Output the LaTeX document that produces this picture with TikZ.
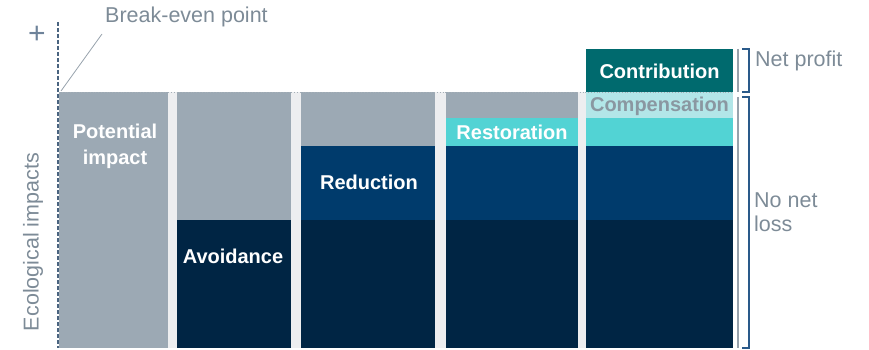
\documentclass[tikz,border=0pt]{standalone}
\usepackage{fontspec}
\setmainfont{Liberation Sans}
\definecolor{impactgray}{HTML}{9CA9B4}
\definecolor{gapgray}{HTML}{EDEEF0}
\definecolor{deepnavy}{HTML}{002544}
\definecolor{navy}{HTML}{003B6C}
\definecolor{cyanband}{HTML}{52D3D4}
\definecolor{palecyan}{HTML}{B2E6E8}
\definecolor{teal}{HTML}{006A6E}
\definecolor{labelgray}{HTML}{7D8B97}
\definecolor{axisblue}{HTML}{4A6480}
\definecolor{bracketblue}{HTML}{2A5A8A}

\begin{document}
\begin{tikzpicture}[x=1pt, y=-1pt]
  % Define styles for labels
  \tikzstyle{barlabel} = [text=white, font=\fontsize{20}{26}\selectfont\bfseries, align=center, inner sep=0pt]
  \tikzstyle{sidelabel} = [text=labelgray, font=\fontsize{21.5}{24}\selectfont, align=left, inner sep=0pt]
  \tikzstyle{brace} = [bracketblue, line width=1.4pt]

  \useasboundingbox (0,0) rectangle (869,350);

  % Gaps between the columns
  \foreach \xa/\xb in {168/177, 291/301, 435/446, 578/586} {
    \fill[gapgray] (\xa,92) rectangle (\xb,348);
  }

  % Potential impact still open
  \foreach \xa/\xb in {59/168, 177/291, 301/435, 446/578} {
    \fill[impactgray] (\xa,92) rectangle (\xb,348);
  }

  % Stacked measures
  \foreach \xa/\xb in {177/291, 301/435, 446/578, 586/733} {
    \fill[deepnavy] (\xa,220) rectangle (\xb,348);
  }
  \foreach \xa/\xb in {301/435, 446/578, 586/733} {
    \fill[navy] (\xa,146) rectangle (\xb,220);
  }
  \foreach \xa/\xb in {446/578, 586/733} {
    \fill[cyanband] (\xa,118) rectangle (\xb,146);
  }
  \fill[palecyan] (586,92) rectangle (733,118);
  \fill[teal] (586,49) rectangle (733,92);

  % Axis and break-even level
  \draw[axisblue, line width=1.4pt, dash pattern=on 4pt off 2pt] (58,22) -- (58,348);
  \draw[labelgray!70, dotted, line width=0.8pt] (59,92) -- (733,92);
  \coordinate (breakeven) at (61,91);
  \node (plus) [text=axisblue!80, font=\fontsize{30}{30}\selectfont, inner sep=0pt] at (37,35) {+};
  \node (bep) [sidelabel, anchor=west] at (105,17) {Break-even point};
  \draw[labelgray!80, line width=0.8pt] (breakeven) -- (102,34);
  \node (axis) [sidelabel, rotate=90] at (33,242) {Ecological impacts};

  % Column labels
  \node (potential) [barlabel] at (115,146) {Potential\\impact};
  \node (avoid) [barlabel] at (233,256) {Avoidance};
  \node (reduce) [barlabel] at (369,182) {Reduction};
  \node (restore) [barlabel] at (512,132) {Restoration};
  \node (compensate) [barlabel, text=labelgray!90] at (659.5,106) {Compensation};
  \node (contribute) [barlabel] at (659.5,71) {Contribution};

  % Brackets on the right
  \draw[labelgray!80, line width=1.2pt] (738,49) -- (738,92);
  \draw[labelgray!80, line width=1.2pt] (738,97) -- (738,348);
  \draw[brace] (742,49) -- (749,49) -- (749,92) -- (742,92);
  \draw[brace] (742,97) -- (749,97) -- (749,348) -- (742,348);
  \node (profit) [sidelabel, anchor=west] at (755,61) {Net profit};
  \node (noloss) [sidelabel, anchor=west] at (754,212) {No net\\loss};
\end{tikzpicture}
\end{document}
